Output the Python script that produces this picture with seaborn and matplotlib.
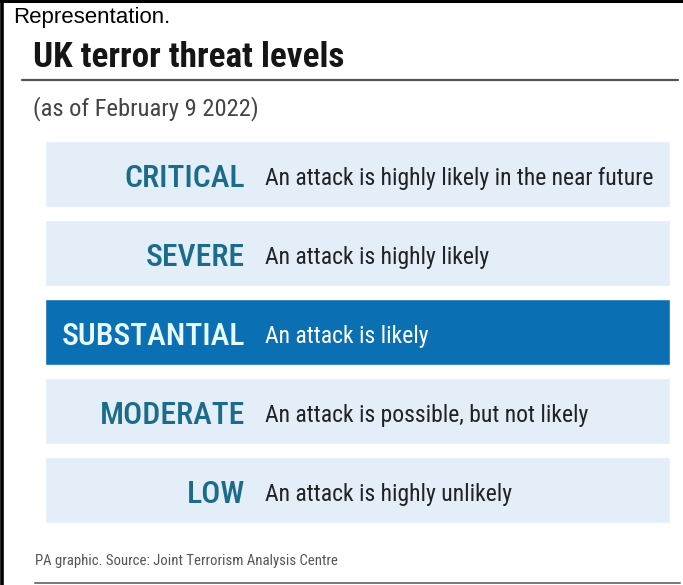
import matplotlib
matplotlib.use("Agg")
import matplotlib.pyplot as plt
from matplotlib.lines import Line2D
from matplotlib import font_manager
import seaborn as sns

# threat levels, top to bottom
levels = ["CRITICAL", "SEVERE", "SUBSTANTIAL", "MODERATE", "LOW"]
descriptions = [
    "An attack is highly likely in the near future",
    "An attack is highly likely",
    "An attack is likely",
    "An attack is possible, but not likely",
    "An attack is highly unlikely",
]
band_width = [1, 1, 1, 1, 1]
current_level = "SUBSTANTIAL"

title = "UK terror threat levels"
subtitle = "(as of February 9 2022)"
footer = "PA graphic. Source: Joint Terrorism Analysis Centre"
caption = "Representation."

light_band = "#e3eef9"
dark_band = "#0b70b3"
label_col = "#1c6b8a"

sns.set_theme(style="white")
have = {f.name for f in font_manager.fontManager.ttflist}
narrow = next((f for f in ["Roboto Condensed", "Archivo Narrow", "PT Sans Narrow",
                           "Barlow Condensed", "Sofia Sans Condensed"] if f in have), "DejaVu Sans")
plt.rcParams["font.family"] = [narrow, "DejaVu Sans"]

W, H = 683, 585
fig = plt.figure(figsize=(W / 100, H / 100), dpi=100)
fig.patch.set_facecolor("white")
renderer = fig.canvas.get_renderer()


def px(x, y):
    return x / W, 1 - y / H


def fit(t, target_px):
    # scale a text so its width matches the reference
    w = t.get_window_extent(renderer).width
    t.set_fontsize(t.get_fontsize() * target_px / w)
    return t.get_fontsize()


# band area
top, bottom, left, right = 134.5, 529.5, 45, 670
ax = fig.add_axes([left / W, 1 - bottom / H, (right - left) / W, (bottom - top) / H])
palette = {lv: (dark_band if lv == current_level else light_band) for lv in levels}
sns.barplot(x=band_width, y=levels, hue=levels, palette=palette, orient="h",
            width=0.83, legend=False, ax=ax, saturation=1)
ax.set_xlim(0, 1)
ax.set_ylim(len(levels) - 0.5, -0.5)
ax.axis("off")

lab_texts, desc_texts = [], []
for i, (lv, desc) in enumerate(zip(levels, descriptions)):
    on_dark = lv == current_level
    lab_texts.append(ax.text(0.32, i + 0.02, lv, ha="right", va="center_baseline", fontsize=24,
                             fontweight="medium", color="#e8fbff" if on_dark else label_col))
    desc_texts.append(ax.text(0.352, i + 0.02, desc, ha="left", va="center_baseline", fontsize=18,
                              color="white" if on_dark else "#222222"))
lab_size = fit(lab_texts[0], 121)
desc_size = fit(desc_texts[0], 390)
for t in lab_texts:
    t.set_fontsize(lab_size)
for t in desc_texts:
    t.set_fontsize(desc_size)

# headings
fig.text(*px(13, 23), caption, fontsize=16, family=["Liberation Sans", "DejaVu Sans"],
         color="black", va="baseline")
fit(fig.text(*px(33, 67), title, fontsize=26, fontweight="bold", color="#151515", va="baseline"), 312)
fit(fig.text(*px(33, 115), subtitle, fontsize=17, color="#444444", va="baseline"), 225)
fit(fig.text(*px(35, 565), footer, fontsize=12, color="#555555", va="baseline"), 300)

# rules and frame
fig.add_artist(Line2D([22 / W, 678 / W], [1 - 80 / H] * 2, color="#555555", lw=1.6))
fig.add_artist(Line2D([35 / W, 680 / W], [1 - 583 / H] * 2, color="#777777", lw=1.4))
fig.add_artist(Line2D([0, 1], [1 - 1 / H] * 2, color="black", lw=2.2))
fig.add_artist(Line2D([1.5 / W] * 2, [0, 1], color="black", lw=2.6))

fig.savefig("out.png", dpi=100)
